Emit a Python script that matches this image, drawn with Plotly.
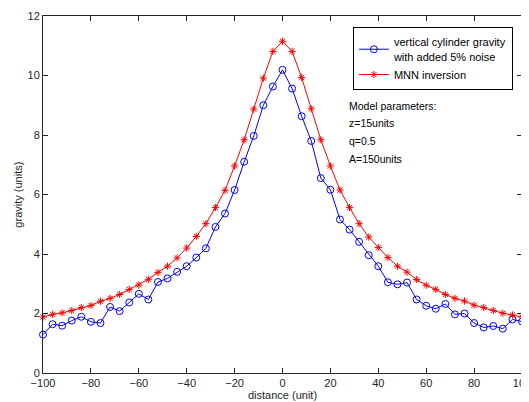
import plotly.graph_objects as go

distance = list(range(-100, 101, 4))

gravity_noisy = [1.29, 1.64, 1.59, 1.76, 1.89, 1.72, 1.68, 2.22, 2.08, 2.37,
                 2.66, 2.47, 3.06, 3.18, 3.40, 3.59, 3.88, 4.19, 4.91, 5.36,
                 6.15, 7.10, 7.97, 9.00, 9.63, 10.19, 9.56, 8.63, 7.80, 6.55,
                 6.16, 5.16, 4.82, 4.41, 3.96, 3.59, 3.05, 2.98, 3.04, 2.47,
                 2.26, 2.16, 2.32, 1.97, 2.00, 1.68, 1.53, 1.58, 1.49, 1.80,
                 1.73]

gravity_mnn = [1.88, 1.97, 2.02, 2.10, 2.20, 2.27, 2.41, 2.51, 2.64, 2.81,
               2.96, 3.15, 3.38, 3.59, 3.87, 4.20, 4.59, 5.02, 5.56, 6.14,
               6.96, 7.84, 8.87, 9.91, 10.81, 11.15, 10.81, 9.93, 8.88, 7.84,
               6.96, 6.15, 5.56, 5.02, 4.57, 4.22, 3.88, 3.59, 3.39, 3.14,
               2.95, 2.81, 2.64, 2.51, 2.42, 2.28, 2.20, 2.10, 2.01, 1.95,
               1.88]

annotation_lines = ["Model parameters:", "z=15units", "q=0.5", "A=150units"]

FONT = "Liberation Sans, Arial, sans-serif"

fig = go.Figure()
fig.add_trace(go.Scatter(
    x=distance, y=gravity_noisy, mode="lines+markers",
    name="vertical cylinder gravity<br>with added 5% noise",
    line=dict(color="#0000FF", width=1),
    marker=dict(symbol="circle-open", size=7, color="#0000FF",
                line=dict(width=1, color="#0000FF")),
    cliponaxis=False,
))
fig.add_trace(go.Scatter(
    x=distance, y=gravity_mnn, mode="lines+markers",
    name="MNN inversion",
    line=dict(color="#FF0000", width=1),
    marker=dict(symbol="asterisk-open", size=6, color="#FF0000",
                line=dict(width=1, color="#FF0000")),
    cliponaxis=False,
))

ys = [8.97, 8.40, 7.80, 7.19]
for txt, yv in zip(annotation_lines, ys):
    fig.add_annotation(x=27, y=yv, text=txt, showarrow=False,
                       xanchor="left", yanchor="middle",
                       font=dict(family=FONT, size=10.5, color="#000000"))

# y-axis title placed as rotated text to the left of the tick labels
fig.add_annotation(xref="paper", yref="paper", x=-0.054, y=0.5,
                   text="gravity (units)", textangle=-90, showarrow=False,
                   xanchor="center", yanchor="middle",
                   font=dict(family=FONT, size=11, color="#262626"))

axis_common = dict(
    showgrid=False, zeroline=False, showline=True, linecolor="#262626",
    linewidth=1, mirror="ticks", ticks="inside", ticklen=5,
    tickcolor="#262626", tickfont=dict(family=FONT, size=11, color="#262626"),
    automargin=False,
)

# page body has an 8px default margin, so the figure is offset by 8px
fig.update_layout(
    width=521, height=394,
    margin=dict(l=35, r=7, t=8, b=29),
    paper_bgcolor="white", plot_bgcolor="white",
    font=dict(family=FONT, size=11, color="#262626"),
    xaxis=dict(range=[-100, 100], tickmode="array",
               tickvals=list(range(-100, 101, 20)),
               ticklabeloverflow="allow",
               title=dict(text="distance (unit)", standoff=0,
                          font=dict(family=FONT, size=11, color="#262626")),
               **axis_common),
    yaxis=dict(range=[0, 12], tickmode="array",
               tickvals=list(range(0, 13, 2)),
               ticklabeloverflow="allow",
               **axis_common),
    legend=dict(x=0.647, y=0.968, xanchor="left", yanchor="top",
                bgcolor="white", bordercolor="#000000", borderwidth=1,
                font=dict(family=FONT, size=11, color="#000000"),
                tracegroupgap=0, itemwidth=30),
    showlegend=True,
)

fig.write_html("out.html")
